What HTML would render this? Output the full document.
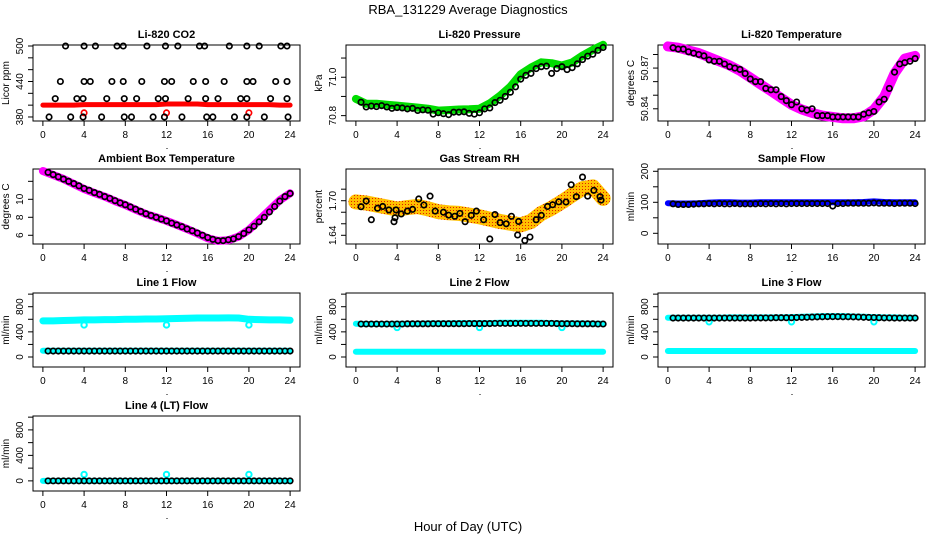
<!DOCTYPE html>
<html><head><meta charset="utf-8"><style>
html,body{margin:0;padding:0;background:#fff;}
svg{display:block;font-family:"Liberation Sans",Arial,sans-serif;}
</style></head><body>
<svg id="chart" width="936" height="540" viewBox="0 0 936 540" xmlns="http://www.w3.org/2000/svg">
<defs>
<pattern id="rhpat" width="3" height="3" patternUnits="userSpaceOnUse">
<rect width="3" height="3" fill="#ffc000"/><rect x="0" y="0" width="1" height="1" fill="#e02000"/>
</pattern>
</defs>
<text x="468" y="14" font-size="13" text-anchor="middle">RBA_131229  Average Diagnostics</text>
<text x="468" y="531" font-size="13" text-anchor="middle">Hour of Day (UTC)</text>
</svg>
<script>
// ---- data ----
const hourly = [0,1,2,3,4,5,6,7,8,9,10,11,12,13,14,15,16,17,18,19,20,21,22,23,24];
const halfHours = [0.5,1,1.5,2,2.5,3,3.5,4,4.5,5,5.5,6,6.5,7,7.5,8,8.5,9,9.5,10,10.5,11,11.5,12,12.5,13,13.5,14,14.5,15,15.5,16,16.5,17,17.5,18,18.5,19,19.5,20,20.5,21,21.5,22,22.5,23,23.5,24];
const dipHours = [4,12,20];

const co2Red = [400,400,400,400,401,401,401,401,401,401,401,401,402,402,402,402,401,401,401,401,401,401,401,400,400];
const co2RedDips = [387,387,387];
const co2BlackHours = [2.2,4.0,5.1,7.2,7.8,10.1,11.9,13.1,15.2,15.7,18.1,19.8,21.0,23.1,23.7,
 1.7,4.0,4.6,6.7,7.8,9.6,11.8,12.5,14.6,15.8,17.6,19.8,20.4,22.6,23.7,
 1.2,3.3,3.9,6.2,7.9,9.1,11.2,11.9,14.1,15.8,17.0,19.2,19.8,22.1,23.7,
 0.6,2.7,3.9,5.7,7.9,8.6,10.7,11.8,13.5,15.9,16.5,18.6,19.8,21.5,23.8];
const co2BlackValues = [500,500,500,500,500,500,500,500,500,500,500,500,500,500,500,
 440,440,440,440,440,440,440,440,440,440,440,440,440,440,440,
 411,411,411,411,411,411,411,411,411,411,411,411,411,411,411,
 380,380,380,380,380,380,380,380,380,380,380,380,380,380,380];

const pressGreen = [70.887,70.862,70.862,70.857,70.852,70.847,70.842,70.836,70.826,70.829,70.832,70.833,70.836,70.864,70.904,70.951,71.016,71.050,71.078,71.073,71.061,71.077,71.113,71.143,71.169];
const pressBlack = [70.870,70.845,70.850,70.847,70.852,70.845,70.838,70.842,70.840,70.835,70.838,70.827,70.830,70.828,70.808,70.815,70.810,70.805,70.818,70.818,70.820,70.812,70.808,70.815,70.835,70.840,70.868,70.880,70.900,70.922,70.950,70.990,71.010,71.020,71.045,71.055,71.058,71.020,71.045,71.055,71.040,71.050,71.070,71.092,71.110,71.120,71.140,71.155];

const tempMagenta = [50.886,50.885,50.883,50.881,50.878,50.875,50.872,50.868,50.863,50.858,50.853,50.848,50.843,50.8395,50.837,50.835,50.834,50.833,50.833,50.8345,50.8395,50.849,50.866,50.877,50.879];
const tempBlack = [50.885,50.884,50.884,50.882,50.881,50.880,50.879,50.876,50.875,50.875,50.873,50.871,50.870,50.869,50.866,50.862,50.860,50.860,50.855,50.854,50.854,50.849,50.846,50.843,50.845,50.840,50.839,50.840,50.835,50.835,50.835,50.834,50.834,50.834,50.834,50.834,50.834,50.836,50.837,50.838,50.845,50.847,50.855,50.867,50.873,50.874,50.875,50.877];

const ambMagenta = [13.15,12.7,12.26,11.7,11.15,10.7,10.3,9.8,9.37,8.85,8.37,8.0,7.6,7.15,6.7,6.2,5.67,5.37,5.45,5.85,6.6,7.7,8.8,9.9,10.67];
const ambBlack = [13.0,12.75,12.5,12.25,12.0,11.75,11.5,11.2,11.0,10.75,10.55,10.3,10.1,9.85,9.6,9.4,9.15,8.9,8.65,8.4,8.2,8.0,7.8,7.6,7.35,7.15,6.95,6.7,6.5,6.25,6.0,5.75,5.55,5.4,5.4,5.5,5.6,5.85,6.2,6.6,7.0,7.5,8.0,8.6,9.2,9.8,10.3,10.65];

const rhOrange = [1.698,1.696,1.6925,1.689,1.6856,1.688,1.69,1.686,1.681,1.679,1.678,1.675,1.672,1.668,1.664,1.661,1.658,1.664,1.678,1.687,1.698,1.71,1.721,1.724,1.704];
const rhBlackHours = [0.5,1.0,1.5,2.1,2.6,3.2,3.7,3.8,3.9,4.4,5.0,5.5,6.1,6.6,7.2,7.7,8.5,9.0,9.6,10.1,10.6,11.2,11.7,12.4,13.0,13.5,14.0,14.6,15.1,15.7,15.8,16.4,16.9,17.5,18.0,18.6,19.1,19.7,20.4,20.9,21.4,22.0,22.5,23.1,23.7,23.8];
const rhBlackValues = [1.6896,1.6994,1.667,1.687,1.690,1.684,1.6636,1.6705,1.684,1.677,1.682,1.685,1.703,1.6925,1.708,1.682,1.680,1.675,1.673,1.678,1.6636,1.6746,1.682,1.667,1.6336,1.676,1.662,1.660,1.673,1.6405,1.664,1.631,1.637,1.667,1.6746,1.690,1.693,1.698,1.6977,1.7277,1.707,1.741,1.708,1.718,1.707,1.701];

const sampleBlue = [97,96,96,97,99,100,100,99,99,100,100,100,100,100,100,100,100,100,100,101,103,101,100,100,100];
const sampleBlack = [95,93,93,93,94,95,95,96,95,96,95,95,96,95,95,95,95,96,95,96,95,96,95,96,96,96,96,96,96,96,96,88,96,96,97,97,97,97,97,98,97,97,97,96,97,97,97,96];

const line1Upper = [575,575,580,585,590,590,595,595,600,600,605,605,610,612,615,620,620,620,622,620,600,595,590,590,585];
const line1Lower = [100,100,100,100,100,100,100,100,100,100,100,100,100,100,100,100,100,100,100,100,100,100,100,100,100];
const line1Black = [95,95,95,95,95,95,95,95,95,95,95,95,95,95,95,95,95,95,95,95,95,95,95,95,95,95,95,95,95,95,95,95,95,95,95,95,95,95,95,95,95,95,95,95,95,95,95,95];
const line1Dips = [510,510,510];

const line2Upper = [530,525,525,525,530,530,530,535,535,535,540,540,540,540,545,545,545,545,545,540,535,535,535,530,530];
const line2Lower = [85,85,85,85,85,85,85,85,85,85,85,85,85,85,85,85,85,85,85,85,85,85,85,85,85];
const line2Black = [525,525,525,525,525,525,525,525,525,528,528,528,528,528,530,530,530,530,530,530,530,532,532,532,532,532,535,535,535,535,535,535,535,535,535,535,535,535,532,530,530,530,528,528,528,528,525,525];
const line2Dips = [470,470,470];

const line3Upper = [625,625,625,625,625,625,630,630,630,630,630,630,635,640,645,650,650,650,645,640,635,630,630,625,625];
const line3Lower = [95,95,95,95,95,95,95,95,95,95,95,95,95,95,95,95,95,95,95,95,95,95,95,95,95];
const line3Black = [620,620,620,620,620,620,620,620,620,620,620,620,620,620,620,620,622,622,622,622,625,625,625,625,628,630,632,635,638,640,642,642,642,640,640,638,636,632,630,628,625,622,622,620,620,620,620,620];
const line3Dips = [560,560,560];

const line4Cyan = [0,0,0,0,0,0,0,0,0,0,0,0,0,0,0,0,0,0,0,0,0,0,0,0,0];
const line4Black = [0,0,0,0,0,0,0,0,0,0,0,0,0,0,0,0,0,0,0,0,0,0,0,0,0,0,0,0,0,0,0,0,0,0,0,0,0,0,0,0,0,0,0,0,0,0,0,0];
const line4Bumps = [100,100,100];

const xTicks = [0,4,8,12,16,20,24];

// ---- drawing ----
const svg = document.getElementById('chart');
const NS = 'http://www.w3.org/2000/svg';
const colLeft = [33,346,658];
const rowTop = [45,169,293,416];
const rowBot = [121,244,367,491];
const W = 267;

function mk(tag, attrs, parent){
  const e = document.createElementNS(NS, tag);
  for (const k in attrs) e.setAttribute(k, attrs[k]);
  (parent||svg).appendChild(e);
  return e;
}

function panel(col,row,name,title,ylab,ymin,ymax,ticks,labels,dec){
  const L = colLeft[col], T = rowTop[row], B = rowBot[row];
  const g = mk('g',{});
  
  
  const xs = h => L + (h+0.96)/25.92*W;
  const ys = v => B - (v-ymin)/(ymax-ymin)*(B-T);
  const box = mk('rect',{x:L,y:T,width:W,height:B-T,fill:'none',stroke:'#000','stroke-width':1},g);
  
  
  const t = mk('text',{x:L+W/2,y:T-7,'font-size':11,'font-weight':'bold','text-anchor':'middle'},g);
  t.textContent = title;
  
  
  const xa = mk('g',{},g);
  
  
  mk('line',{x1:xs(0),x2:xs(24),y1:B,y2:B,stroke:'#000'},xa);
  xTicks.forEach(h=>{
    mk('line',{x1:xs(h),x2:xs(h),y1:B,y2:B+5,stroke:'#000'},xa);
    const tl = mk('text',{x:xs(h),y:B+17,'font-size':10,'text-anchor':'middle'},xa);
    tl.textContent = h;
    
    
  });
  mk('rect',{x:L+W/2,y:B+27,width:1,height:1,fill:'#000'},xa);
  const ya = mk('g',{},g);
  
  
  mk('line',{x1:L,x2:L,y1:ys(ticks[0]),y2:ys(ticks[ticks.length-1]),stroke:'#000'},ya);
  ticks.forEach(v=>{
    mk('line',{x1:L-5,x2:L,y1:ys(v),y2:ys(v),stroke:'#000'},ya);
  });
  labels.forEach(v=>{
    const y = ys(v), x = L-10;
    const tl = mk('text',{x:x,y:y,'font-size':10,'text-anchor':'middle',transform:'rotate(-90 '+x+' '+y+')'},ya);
    tl.textContent = v.toFixed(dec);
    
    
  });
  const yx = L-24, yy = (T+B)/2;
  const yl = mk('text',{x:yx,y:yy,'font-size':10,'text-anchor':'middle',transform:'rotate(-90 '+yx+' '+yy+')'},g);
  yl.textContent = ylab;
  
  
  return {g,xs,ys};
}

function band(p,hours,vals,color,w,name){
  const pts = hours.map((h,i)=>p.xs(h).toFixed(1)+','+p.ys(vals[i]).toFixed(1)).join(' ');
  const l = mk('polyline',{points:pts,fill:'none',stroke:color,'stroke-width':w,'stroke-linejoin':'round','stroke-linecap':'round'},p.g);
  
  
}
function circles(p,hours,vals,color,name,sw){
  const g = mk('g',{},p.g);
  
  
  hours.forEach((h,i)=>{
    const c = mk('circle',{cx:p.xs(h),cy:p.ys(vals[i]),r:2.7,fill:'none',stroke:color,'stroke-width':sw||1.7},g);
    
    
  });
}

let p = panel(0,0,'co2','Li-820 CO2','Licor ppm',373.2,501.7,[380,400,420,440,460,480,500],[380,440,500],0);
band(p,hourly,co2Red,'#ff0000',5,'co2-red-series');
circles(p,dipHours,co2RedDips,'#ff0000','co2-red-outliers');
circles(p,co2BlackHours,co2BlackValues,'#000','co2-black-series');

p = panel(1,0,'pressure','Li-820 Pressure','kPa',70.772,71.168,[70.8,70.9,71.0,71.1],[70.8,71.0],1);
band(p,hourly,pressGreen,'#00dd00',8,'pressure-green-series');
circles(p,halfHours,pressBlack,'#000','pressure-black-series');

p = panel(2,0,'li820-temp','Li-820 Temperature','degrees C',50.831,50.887,[50.84,50.85,50.86,50.87,50.88],[50.84,50.87],2);
band(p,hourly,tempMagenta,'#ff00ff',10,'temp-magenta-series');
circles(p,halfHours,tempBlack,'#000','temp-black-series');

p = panel(0,1,'ambient','Ambient Box Temperature','degrees C',5.03,13.37,[6,8,10,12],[6,8,10],0);
band(p,hourly,ambMagenta,'#ff00ff',8,'ambient-magenta-series');
circles(p,halfHours,ambBlack,'#000','ambient-black-series');

p = panel(1,1,'rh','Gas Stream RH','percent',1.6249,1.755,[1.64,1.66,1.68,1.70,1.72],[1.64,1.70],2);
band(p,hourly,rhOrange,'url(#rhpat)',15,'rh-orange-series');
circles(p,rhBlackHours,rhBlackValues,'#000','rh-black-series');

p = panel(2,1,'sample-flow','Sample Flow','ml/min',-34.5,207.4,[0,50,100,150,200],[0,100,200],0);
band(p,hourly,sampleBlue,'#0000ff',6,'sample-blue-series');
circles(p,halfHours,sampleBlack,'#000','sample-black-series');

const flowTicks = [0,200,400,600,800,1000], flowLabels = [0,400,800];
p = panel(0,2,'line1','Line 1 Flow','ml/min',-159,1018,flowTicks,flowLabels,0);
band(p,hourly,line1Upper,'#00ffff',7,'line1-cyan-upper');
band(p,hourly,line1Lower,'#00ffff',6,'line1-cyan-lower');
circles(p,dipHours,line1Dips,'#00ffff','line1-cyan-dips',2);
circles(p,halfHours,line1Black,'#000','line1-black-series');

p = panel(1,2,'line2','Line 2 Flow','ml/min',-159,1018,flowTicks,flowLabels,0);
band(p,hourly,line2Upper,'#00ffff',6,'line2-cyan-upper');
band(p,hourly,line2Lower,'#00ffff',6,'line2-cyan-lower');
circles(p,dipHours,line2Dips,'#00ffff','line2-cyan-dips',2);
circles(p,halfHours,line2Black,'#000','line2-black-series');

p = panel(2,2,'line3','Line 3 Flow','ml/min',-159,1018,flowTicks,flowLabels,0);
band(p,hourly,line3Upper,'#00ffff',6,'line3-cyan-upper');
band(p,hourly,line3Lower,'#00ffff',6,'line3-cyan-lower');
circles(p,dipHours,line3Dips,'#00ffff','line3-cyan-dips',2);
circles(p,halfHours,line3Black,'#000','line3-black-series');

p = panel(0,3,'line4','Line 4 (LT) Flow','ml/min',-159,1018,flowTicks,flowLabels,0);
band(p,hourly,line4Cyan,'#00ffff',6,'line4-cyan-series');
circles(p,dipHours,line4Bumps,'#00ffff','line4-cyan-bumps',2);
circles(p,halfHours,line4Black,'#000','line4-black-series');
</script>
</body></html>
